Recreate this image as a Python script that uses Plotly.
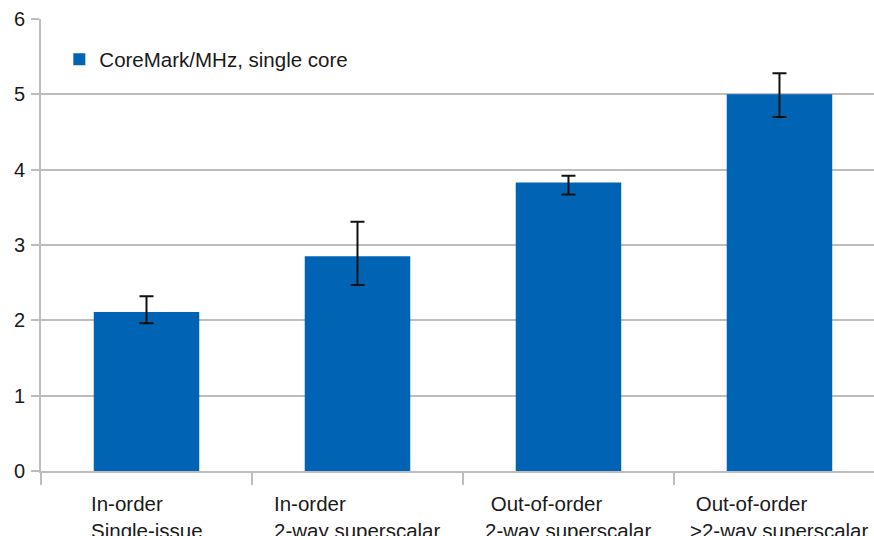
import plotly.graph_objects as go

# CoreMark/MHz per core microarchitecture class
categories = [
    "In-order<br>Single-issue",
    "In-order<br>2-way superscalar",
    "\u00a0Out-of-order<br>2-way superscalar",
    "\u00a0Out-of-order<br>>2-way superscalar",
]
values = [2.11, 2.85, 3.83, 5.00]
err_plus = [0.21, 0.46, 0.09, 0.28]
err_minus = [0.15, 0.38, 0.16, 0.30]
y_ticks = [0, 1, 2, 3, 4, 5, 6]

FONT = "Liberation Sans, Arial, sans-serif"
GRID = "#bdbdbd"
TEXT = "#1a1a1a"

positions = list(range(len(categories)))

fig = go.Figure()
fig.add_trace(go.Bar(
    x=positions,
    y=values,
    width=0.5,
    name="CoreMark/MHz, single core",
    marker=dict(color="#0063b4", line=dict(width=0)),
    error_y=dict(
        type="data",
        symmetric=False,
        array=err_plus,
        arrayminus=err_minus,
        color="#111111",
        thickness=2,
        width=7,
    ),
))

# two-line category labels, left-aligned within each block
for pos, label in zip(positions, categories):
    fig.add_annotation(
        x=pos, xref="x",
        y=-0.041, yref="paper",
        text=label,
        showarrow=False,
        xanchor="center", yanchor="top",
        align="left",
        font=dict(family=FONT, size=20.5, color=TEXT),
    )

fig.update_layout(
    width=874, height=536,
    margin=dict(l=41, r=0, t=19, b=65),
    paper_bgcolor="white",
    plot_bgcolor="white",
    showlegend=True,
    legend=dict(
        x=0.022, y=0.955, xanchor="left", yanchor="top",
        bgcolor="rgba(0,0,0,0)",
        font=dict(family=FONT, size=20.5, color=TEXT),
    ),
    font=dict(family=FONT, size=20, color=TEXT),
)

fig.update_xaxes(
    range=[-0.5, 3.448],
    tickvals=[-0.5, 0.5, 1.5, 2.5],
    showticklabels=False,
    ticks="outside", ticklen=12, tickwidth=2, tickcolor=GRID,
    showline=True, linecolor=GRID, linewidth=2,
    showgrid=False, zeroline=False,
)
fig.update_yaxes(
    range=[0, 6],
    tickvals=y_ticks,
    ticks="outside", ticklen=8, tickwidth=2, tickcolor=GRID,
    ticklabelstandoff=2,
    showline=True, linecolor=GRID, linewidth=2,
    showgrid=True, gridcolor=GRID, gridwidth=2,
    zeroline=False,
    tickfont=dict(family=FONT, size=20, color=TEXT),
)

fig.write_html("out.html")
